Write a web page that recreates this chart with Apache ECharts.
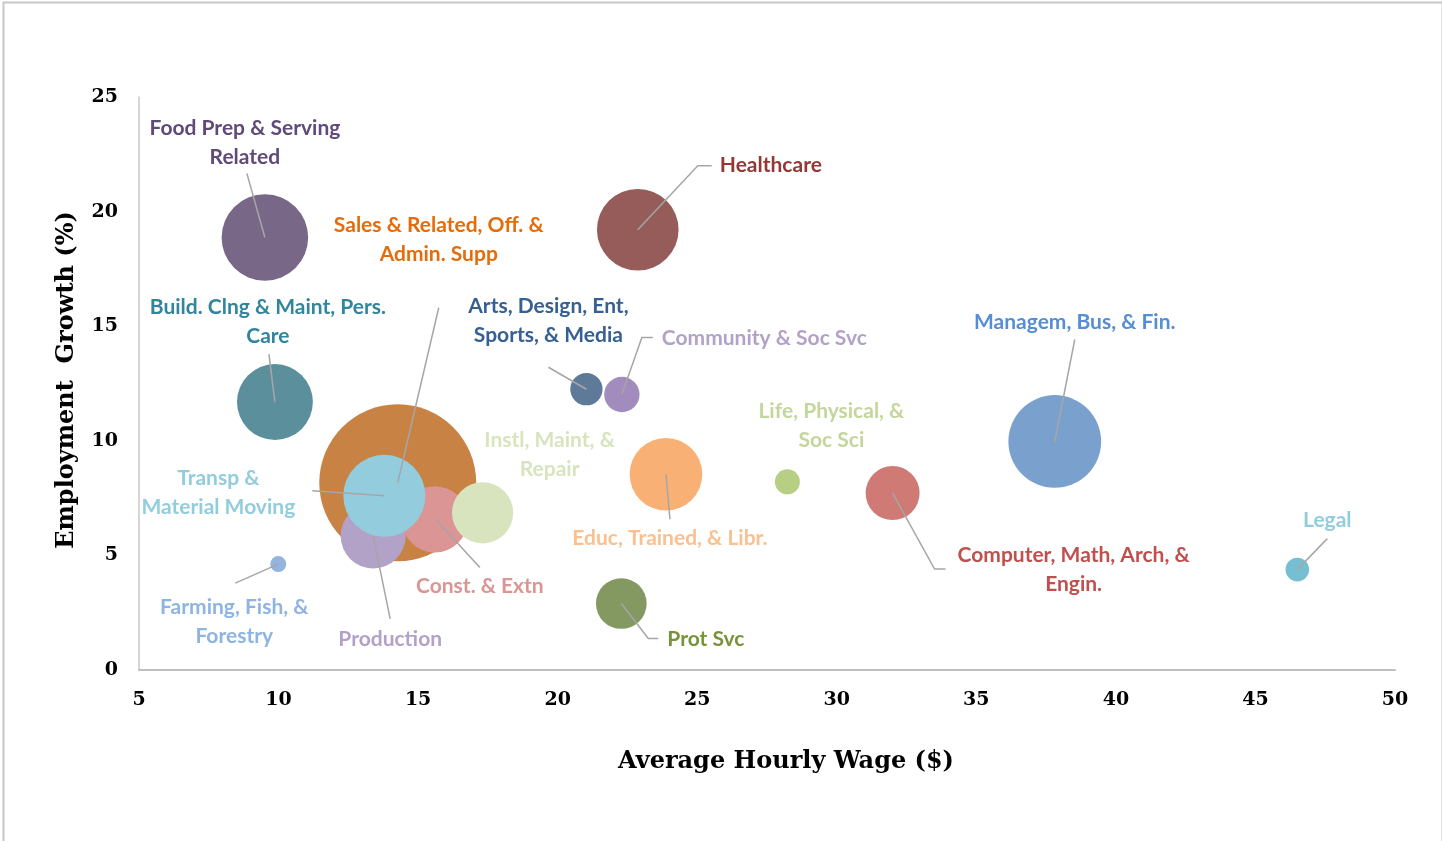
<!DOCTYPE html>
<html>
<head>
<meta charset="utf-8">
<script src="https://cdn.jsdelivr.net/npm/echarts@6/dist/echarts.min.js"></script>
<style>
html,body{margin:0;padding:0;background:#fff;}
#chart{width:1442px;height:841px;}
</style>
</head>
<body>
<div id="chart"></div>
<script>
// ---- data ----
const categories = [
  'Sales & Related, Off. &\nAdmin. Supp',
  'Food Prep & Serving\nRelated',
  'Healthcare',
  'Build. Clng & Maint, Pers.\nCare',
  'Production',
  'Const. & Extn',
  'Transp &\nMaterial Moving',
  'Instl, Maint, &\nRepair',
  'Arts, Design, Ent,\nSports, & Media',
  'Community & Soc Svc',
  'Educ, Trained, & Libr.',
  'Life, Physical, &\nSoc Sci',
  'Computer, Math, Arch, &\nEngin.',
  'Managem, Bus, & Fin.',
  'Legal',
  'Farming, Fish, &\nForestry',
  'Prot Svc'
];
const wage =       [14.27, 9.51, 22.87, 9.87, 13.39, 15.6, 13.79, 17.31, 21.03, 22.3, 23.88, 28.23, 32.0, 37.81, 46.5, 9.99, 22.28];
const growth =     [8.17, 18.87, 19.21, 11.69, 5.85, 6.57, 7.6, 6.86, 12.25, 12.02, 8.54, 8.21, 7.72, 9.97, 4.38, 4.62, 2.9];
const employment = [35500, 10800, 9600, 8300, 6100, 6300, 9700, 5400, 1500, 1800, 7600, 900, 4200, 12400, 800, 370, 3700];
const xTicks = [5, 10, 15, 20, 25, 30, 35, 40, 45, 50];
const yTicks = [0, 5, 10, 15, 20, 25];

// ---- styles ----
const bubbleColors = ['#c88243','#786786','#955c59','#5b8f9c','#b3a2c8','#da9594','#93cddd','#d7e4bd','#5f7a99','#a28bbd','#f9b074','#b7cf85','#d07a76','#7aa1cd','#76bfd3','#94b3dd','#849861'];
const labelColors  = ['#e46c0a','#604a7b','#953735','#31859c','#b3a2c7','#d99694','#93cddd','#d7e4bd','#376092','#b3a2c7','#fac090','#c3d69b','#c0504d','#558ed5','#93cddd','#8eb4e3','#77933c'];
// label offset (px from bubble centre), alignment, leader polyline (px offsets)
const labelLayout = [
  {dx:41, dy:-243, align:'center', line:[[41,-175],[0,0]]},
  {dx:-20, dy:-95, align:'center', line:[[-18,-64],[0,0]]},
  {dx:82, dy:-64, align:'left', line:[[0,0],[60,-64],[74,-64]]},
  {dx:-7, dy:-80, align:'center', line:[[-6,-48],[0,0]]},
  {dx:17, dy:103, align:'center', line:[[17,83],[0,0]]},
  {dx:45, dy:67, align:'center', line:[[45,48],[1,0]]},
  {dx:-166, dy:-3, align:'center', line:[[-72,-5],[0,0]]},
  {dx:67, dy:-58, align:'center', line:null},
  {dx:-38, dy:-68, align:'center', line:[[-38,-22],[0,0]]},
  {dx:40, dy:-56, align:'left', line:[[0,0],[20,-57],[31,-57]]},
  {dx:4, dy:64, align:'center', line:[[0,0],[4,45]]},
  {dx:44, dy:-56, align:'center', line:null},
  {dx:181, dy:77, align:'center', line:[[0,0],[42,76],[53,76]]},
  {dx:20, dy:-119, align:'center', line:[[20,-102],[0,0]]},
  {dx:30, dy:-49, align:'center', line:[[30,-31],[0,0]]},
  {dx:-44, dy:58, align:'center', line:[[-43,19],[0,0]]},
  {dx:46, dy:36, align:'left', line:[[0,0],[27,35],[37,35]]}
];

const serif = '"DejaVu Serif", "Liberation Serif", serif';
const labelFont = 'bold 21px Lato, "Open Sans", sans-serif';

const points = wage.map((w, i) => ({
  value: [w, growth[i], employment[i]],
  itemStyle: {color: bubbleColors[i]}
}));
const annData = wage.map((w, i) => [w, growth[i]]);

const chart = echarts.init(document.getElementById('chart'), null, {renderer: 'canvas'});
chart.setOption({
  animation: false,
  backgroundColor: '#fff',
  grid: {left: 139, right: 47, top: 97, bottom: 171, containLabel: false},
  xAxis: {
    type: 'value', min: xTicks[0], max: xTicks[xTicks.length - 1], interval: 5,
    splitLine: {show: false},
    axisTick: {show: false},
    axisLine: {show: true, onZero: false, lineStyle: {color: '#bfbfbf', width: 2}},
    axisLabel: {margin: 21, color: '#000', fontFamily: serif, fontWeight: 'bold', fontSize: 19}
  },
  yAxis: {
    type: 'value', min: yTicks[0], max: yTicks[yTicks.length - 1], interval: 5,
    splitLine: {show: false},
    axisTick: {show: false},
    axisLabel: {margin: 21, color: '#000', fontFamily: serif, fontWeight: 'bold', fontSize: 19, padding: [8, 0, 0, 0]},
    axisLine: {show: true, lineStyle: {color: '#c8c8c8', width: 1.5}}
  },
  graphic: [
    {type: 'rect', left: 1, top: 0, z: -10, shape: {width: 1439, height: 860}, style: {fill: 'none', stroke: '#c8c8c8', lineWidth: 2}},
    {type: 'text', x: 786, y: 762, style: {text: 'Average Hourly Wage ($)', font: 'bold 24px ' + serif, fill: '#000', align: 'center', verticalAlign: 'middle'}},
    {type: 'text', x: 67, y: 380, rotation: Math.PI / 2, style: {text: 'Employment  Growth (%)', font: 'bold 24px ' + serif, fill: '#000', align: 'center', verticalAlign: 'middle'}}
  ],
  series: [
    {
      type: 'scatter',
      data: points,
      symbolSize: v => 0.833 * Math.sqrt(v[2]),
      itemStyle: {opacity: 1},
      emphasis: {disabled: true},
      z: 2
    },
    {
      type: 'custom',
      data: annData,
      z: 5,
      silent: true,
      renderItem: function (params, api) {
        const i = params.dataIndex;
        const c = api.coord([api.value(0), api.value(1)]);
        const L = labelLayout[i];
        const children = [];
        if (L.line) {
          children.push({
            type: 'polyline',
            shape: {points: L.line.map(p => [c[0] + p[0], c[1] + p[1]])},
            style: {stroke: '#a6a6a6', lineWidth: 1.5, fill: 'none'}
          });
        }
        children.push({
          type: 'text',
          style: {
            text: categories[i], x: c[0] + L.dx, y: c[1] + L.dy,
            font: labelFont, fill: labelColors[i], align: L.align,
            verticalAlign: 'middle', lineHeight: 29
          }
        });
        return {type: 'group', children: children};
      }
    }
  ]
});
</script>
</body>
</html>
